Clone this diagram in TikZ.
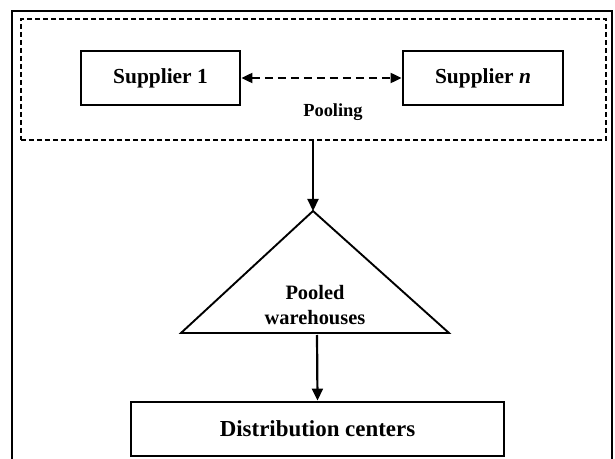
\documentclass[tikz,border=0pt]{standalone}
\usepackage{fontspec}
\setmainfont{Liberation Serif}
\usetikzlibrary{arrows.meta}
\begin{document}
\begin{tikzpicture}[x=1bp,y=-1bp,
  box/.style={draw=black,line width=2.8bp,inner sep=0pt,minimum height=54bp,font=\bfseries\fontsize{21.5}{24}\selectfont},
  tip/.style={Triangle[length=11bp,width=10bp]},
  arr/.style={line width=2.2bp,-{Triangle[length=12bp,width=11bp]}},
  lbl/.style={font=\bfseries\fontsize{19}{23}\selectfont,inner sep=0pt,align=center}]
\useasboundingbox (0,0) rectangle (615,459);
% outer frame (cut at the bottom)
\draw[line width=2bp] (12,459) -- (12,11) -- (612,11) -- (612,459);
% pooling group
\node[draw,line width=1.3bp,dash pattern=on 5bp off 3bp,inner sep=0pt,minimum width=585bp,minimum height=121bp] (pool) at (313.5,79.5) {};
\node[box,minimum width=159bp] (s1) at (160.5,78) {Supplier 1};
\node[box,minimum width=160bp] (sn) at (483,78) {Supplier \textit{n}};
\draw[line width=2bp,dash pattern=on 8bp off 5bp,{Triangle[length=11bp,width=10bp]}-{Triangle[length=11bp,width=10bp]}] (s1.east) -- (sn.west);
\node[lbl,font=\bfseries\fontsize{18.5}{21}\selectfont] (plab) at (333,112) {Pooling};
% warehouses triangle
\coordinate (apex) at (313,211);
\coordinate (bl) at (181,333);
\coordinate (br) at (449,333);
\draw[line width=1.9bp,line join=miter] (apex) -- (br) -- (bl) -- cycle;
\node[lbl,font=\bfseries\fontsize{20.5}{24.5}\selectfont] (wh) at (315,305) {Pooled\\warehouses};
\coordinate (base) at (317,335);
\draw[arr] (pool.south -| apex) -- (apex);
% distribution
\node[box,minimum width=373bp,font=\bfseries\fontsize{23}{26}\selectfont] (dc) at (317.5,429) {Distribution centers};
\draw[arr] (base) -- (dc.north);
\end{tikzpicture}
\end{document}
